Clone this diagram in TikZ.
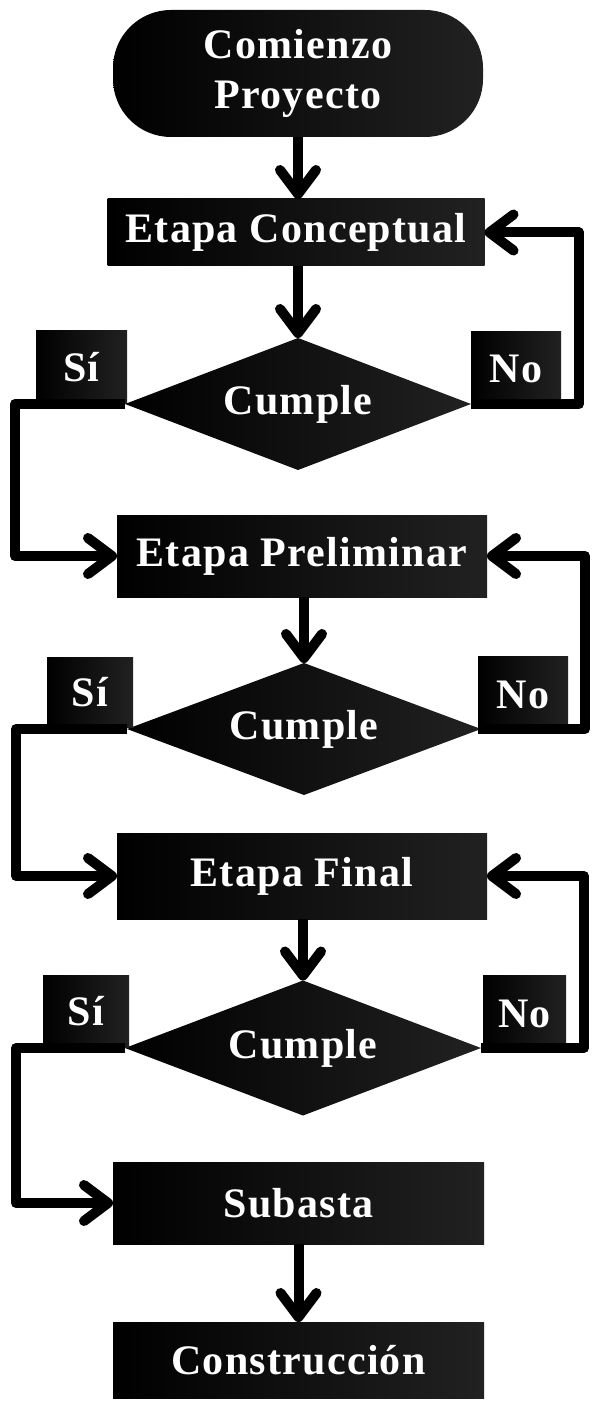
\documentclass[tikz,border=0pt]{standalone}
\usepackage{fontspec}
\setmainfont{Liberation Serif}[LetterSpace=3]
\usetikzlibrary{shapes.geometric, arrows.meta}
\begin{document}
\begin{tikzpicture}[x=0.5pt, y=-0.5pt,
  every node/.style={text=white, font=\fontsize{21}{25}\selectfont\bfseries, inner sep=0pt, outer sep=0pt, align=center},
  blk/.style={left color=black, middle color=black, right color=black!87, draw=none},
  stepbox/.style={blk, rectangle},
  dia/.style={blk, diamond, aspect=2.6},
  arr/.style={line width=5pt, line join=round, draw=black,
    -{Straight Barb[length=12pt, width=18pt, round]}}
]
\fill[white] (0,0) rectangle (591,1401);
\useasboundingbox (0,0) rectangle (591,1401);

% nodes
\node[stepbox, minimum width=185pt, minimum height=63.5pt, rounded corners=29pt] (start) at (298,73.5) {Comienzo\\Proyecto};
\node[stepbox, minimum width=188.5pt, minimum height=33.5pt] (conc) at (296,232.5) {Etapa Conceptual};
\node[dia, minimum width=173pt, minimum height=66pt] (d1) at (298,404) {Cumple};
\node[stepbox, minimum width=45.5pt, minimum height=36pt] (si1) at (81.5,367) {Sí};
\node[stepbox, minimum width=45pt, minimum height=36.5pt] (no1) at (516,368.5) {No};

\node[stepbox, minimum width=185pt, minimum height=41pt] (prel) at (302,556) {Etapa Preliminar};
\node[dia, minimum width=177pt, minimum height=66pt] (d2) at (304,729) {Cumple};
\node[stepbox, minimum width=43pt, minimum height=35pt] (si2) at (90,692) {Sí};
\node[stepbox, minimum width=45pt, minimum height=38.5pt] (no2) at (523,694.5) {No};

\node[stepbox, minimum width=185pt, minimum height=43pt] (fin) at (302,876) {Etapa Final};
\node[dia, minimum width=178pt, minimum height=67.5pt] (d3) at (303,1048) {Cumple};
\node[stepbox, minimum width=43pt, minimum height=36pt] (si3) at (86,1011) {Sí};
\node[stepbox, minimum width=41.5pt, minimum height=38.5pt] (no3) at (524.5,1013.5) {No};

\node[stepbox, minimum width=185.5pt, minimum height=41pt] (sub) at (298.5,1203) {Subasta};
\node[stepbox, minimum width=185.5pt, minimum height=38pt] (cons) at (298.5,1360) {Construcción};

% turning points
\coordinate (L1) at (15,0);
\coordinate (L2) at (16,0);
\coordinate (L3) at (16,0);
\coordinate (R1) at (579,0);
\coordinate (R2) at (585,0);
\coordinate (R3) at (584,0);

% connectors
\draw[arr] (start.south) -- (start.south |- conc.north);
\draw[arr] (d1.north |- conc.south) -- (d1.north);
\draw[arr] (d1.west) -- (d1.west -| L1) |- (prel.west);
\draw[arr] (d1.east) -- (d1.east -| R1) |- (conc.east);
\draw[arr] (d2.north |- prel.south) -- (d2.north);
\draw[arr] (d2.west) -- (d2.west -| L2) |- (fin.west);
\draw[arr] (d2.east) -- (d2.east -| R2) |- (prel.east);
\draw[arr] (d3.north |- fin.south) -- (d3.north);
\draw[arr] (d3.west) -- (d3.west -| L3) |- (sub.west);
\draw[arr] (d3.east) -- (d3.east -| R3) |- (fin.east);
\draw[arr] (sub.south) -- (sub.south |- cons.north);
\end{tikzpicture}
\end{document}
